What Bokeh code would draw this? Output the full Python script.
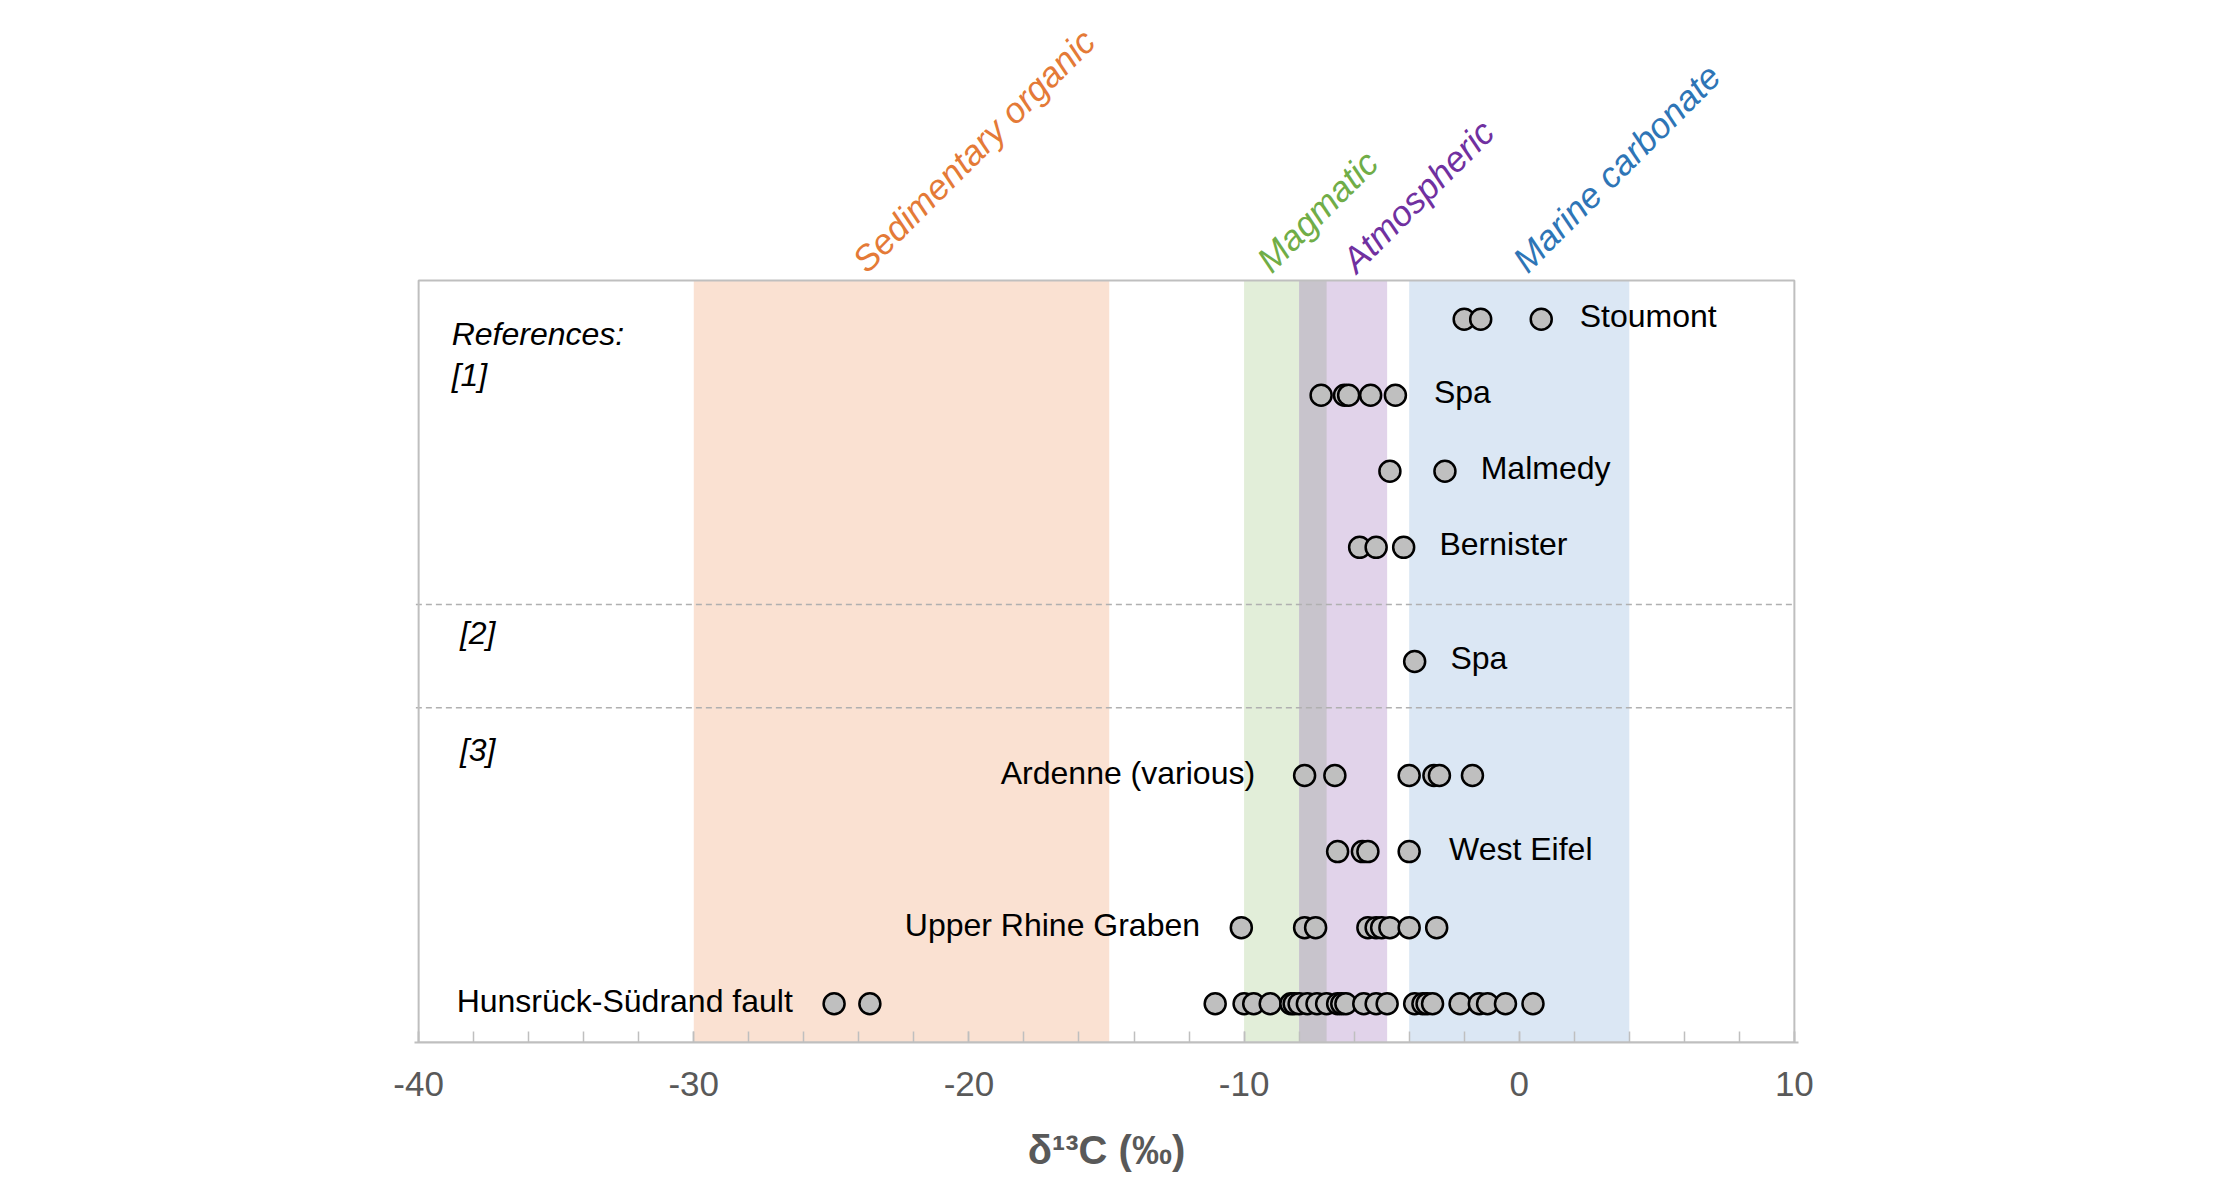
from bokeh.plotting import figure
from bokeh.models import Range1d, FixedTicker, ColumnDataSource
from bokeh.core.properties import value
from bokeh.embed import file_html
from bokeh.resources import INLINE

# ---------------- data ----------------
sites = ["Stoumont", "Spa", "Malmedy", "Bernister", "Spa",
         "Ardenne (various)", "West Eifel", "Upper Rhine Graben", "Hunsrück-Südrand fault"]
site_row = [9, 8, 7, 6, 4.5, 3, 2, 1, 0]
site_label_x = [2.2, -3.1, -1.4, -2.9, -2.5, -9.6, -2.55, -11.6, -26.4]
site_label_align = ["left", "left", "left", "left", "left", "right", "left", "right", "right"]

stoumont = [-2.0, -1.4, 0.8]
spa1 = [-7.2, -6.35, -6.2, -5.4, -4.5]
malmedy = [-4.7, -2.7]
bernister = [-5.8, -5.2, -4.2]
spa2 = [-3.8]
ardenne = [-7.8, -6.7, -4.0, -3.1, -2.9, -1.7]
west_eifel = [-6.6, -5.7, -5.5, -4.0]
upper_rhine = [-10.1, -7.8, -7.4, -5.5, -5.2, -5.0, -4.7, -4.0, -3.0]
hunsruck = [-24.9, -23.6, -11.05, -10.0, -9.65, -9.05, -8.3, -8.18, -8.0, -7.7, -7.35,
            -7.0, -6.6, -6.45, -6.3, -5.65, -5.2, -4.8, -3.8, -3.5, -3.35, -3.15,
            -2.15, -1.45, -1.15, -0.5, 0.5]
site_values = [stoumont, spa1, malmedy, bernister, spa2, ardenne, west_eifel, upper_rhine, hunsruck]

band_names = ["Sedimentary organic", "Magmatic", "Atmospheric", "Marine carbonate"]
band_left = [-30, -10, -8, -4]
band_right = [-14.9, -7, -4.8, 4]
band_fill = ["#fae1d2", "#e2eed9", "#e1d3ea", "#dbe7f4"]
band_text_color = ["#e47a37", "#70ad47", "#7030a0", "#2e75b6"]
band_label_x = [-24.0, -9.3, -6.2, 0.0]
overlap_left = [-8]
overlap_right = [-7]
overlap_fill = "#c8c4cc"

ref_texts = ["References:", "[1]", "[2]", "[3]"]
ref_y = [8.81, 8.27, 4.88, 3.34]
ref_x = [-38.8, -38.8, -38.5, -38.5]
divider_y = [5.25, 3.89]

tick_values = [-40, -30, -20, -10, 0, 10]
tick_labels = ["-40", "-30", "-20", "-10", "0", "10"]

X_MIN, X_MAX = -40, 10
Y_MIN, Y_MAX = -0.51, 9.51      # plot box
Y_TOP = 13.19                   # space above the box for the rotated labels

# ---------------- figure ----------------
FONT = "Liberation Sans"
p = figure(output_backend="svg", toolbar_location=None,
           frame_width=1384, frame_height=1042,
           min_border_left=414, min_border_right=405,
           min_border_top=0, min_border_bottom=133,
           x_range=Range1d(X_MIN - 0.15, X_MAX + 0.15), y_range=Range1d(Y_MIN, Y_TOP))
p.background_fill_color = "white"
p.border_fill_color = "white"
p.outline_line_color = None
p.grid.visible = False
p.yaxis.visible = False

# bands
p.quad(left=band_left, right=band_right, bottom=Y_MIN, top=Y_MAX,
       fill_color=band_fill, line_color=None)
p.quad(left=overlap_left, right=overlap_right, bottom=Y_MIN, top=Y_MAX,
       fill_color=overlap_fill, line_color=None)

# dividers
p.segment(x0=[X_MIN - 0.1] * len(divider_y), x1=[X_MAX] * len(divider_y),
          y0=divider_y, y1=divider_y, line_color="#b0b0b0",
          line_width=1.5, line_dash="6 4")

# plot box
p.quad(left=[X_MIN], right=[X_MAX], bottom=[Y_MIN], top=[Y_MAX],
       fill_color=None, line_color="#bfbfbf", line_width=2)

# points
xs, ys = [], []
for vals, r in zip(site_values, site_row):
    xs.extend(vals)
    ys.extend([r] * len(vals))
p.scatter(x=xs, y=ys, size=21, fill_color="#bfbfbf",
          line_color="black", line_width=2.5)

# site labels
for align in ["left", "right"]:
    idx = [i for i, a in enumerate(site_label_align) if a == align]
    src = ColumnDataSource(dict(x=[site_label_x[i] for i in idx],
                                y=[site_row[i] for i in idx],
                                t=[sites[i] for i in idx]))
    p.text(x="x", y="y", text="t", source=src, text_align=align,
           text_baseline="middle", text_font=value(FONT), y_offset=-3,
           text_font_size="32px", text_color="black")

# reference labels
p.text(x=ref_x, y=ref_y, text=ref_texts, text_align="left",
       text_baseline="middle", text_font=value(FONT), text_font_style="italic",
       text_font_size="32px", text_color="black")

# band labels above the plot box
p.text(x=band_label_x, y=[Y_MAX + 0.19] * len(band_label_x), text=band_names,
       angle=45, angle_units="deg", text_color=band_text_color,
       text_align="left", text_baseline="alphabetic",
       text_font=value(FONT), text_font_style="italic", text_font_size="35.5px")

# x axis
ax = p.xaxis[0]
ax.ticker = FixedTicker(ticks=tick_values, minor_ticks=list(range(-40, 11, 2)))
ax.major_label_overrides = {v: l for v, l in zip(tick_values, tick_labels)}
ax.axis_line_color = "#bfbfbf"
ax.axis_line_width = 2
ax.major_tick_in = 11
ax.major_tick_out = 0
ax.minor_tick_in = 11
ax.minor_tick_out = 0
ax.major_tick_line_color = "#bfbfbf"
ax.minor_tick_line_color = "#bfbfbf"
ax.major_tick_line_width = 1.5
ax.minor_tick_line_width = 1.5
ax.major_label_text_font = FONT
ax.major_label_text_font_size = "35px"
ax.major_label_text_color = "#595959"
ax.major_label_standoff = 29
ax.axis_label = "δ¹³C (‰)"
ax.axis_label_text_font = FONT
ax.axis_label_text_font_style = "bold"
ax.axis_label_text_font_size = "40px"
ax.axis_label_text_color = "#595959"
ax.axis_label_standoff = 29

open("out.html", "w").write(file_html(p, INLINE))
